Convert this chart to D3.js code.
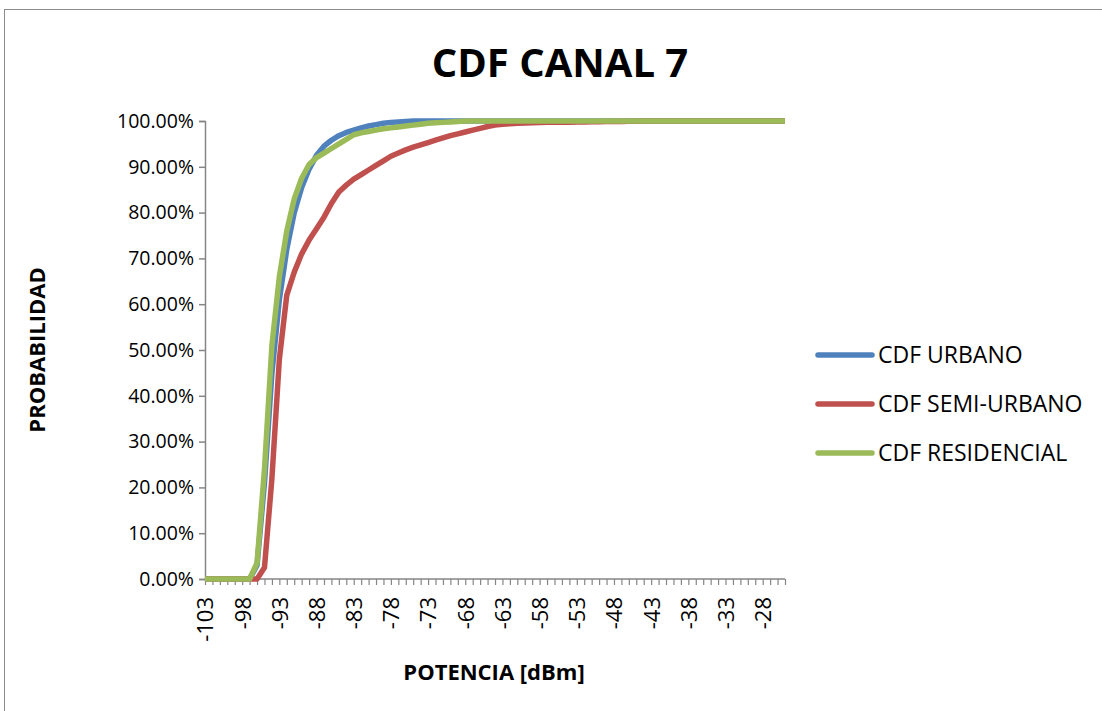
<!DOCTYPE html>
<html>
<head>
<meta charset="utf-8">
<script src="https://cdn.jsdelivr.net/npm/d3@7"></script>
<style>
  body { margin: 0; background: #fff; }
  svg { display: block; font-family: "Open Sans", sans-serif; }
</style>
</head>
<body>
<svg id="chart" width="1102" height="711"></svg>
<script>
// categories: potencia in dBm, one per point
const potencia = d3.range(-103, -24);

// CDF values in percent, one per category (-103 .. -25)
const urbano = [
  0, 0, 0, 0, 0, 0, 0,
  3, 21, 45, 61, 72, 80, 85.5, 89.5, 92.5, 94.5, 95.8, 96.8, 97.5, 98, 98.5, 98.9, 99.2, 99.5, 99.7, 99.8, 99.9,
  100, 100, 100, 100, 100, 100, 100, 100, 100, 100,
  100, 100, 100, 100, 100, 100, 100, 100, 100, 100,
  100, 100, 100, 100, 100, 100, 100, 100, 100, 100,
  100, 100, 100, 100, 100, 100, 100, 100, 100, 100,
  100, 100, 100, 100, 100, 100, 100, 100, 100, 100,
  100
];
const semiUrbano = [
  0, 0, 0, 0, 0, 0, 0, 0,
  2.5, 22, 48, 62, 67, 71, 74, 76.5, 79, 82, 84.5, 86, 87.3, 88.3, 89.3, 90.3, 91.3, 92.3, 93, 93.7,
  94.3, 94.8, 95.3, 95.8, 96.3, 96.8, 97.2, 97.6, 98, 98.4, 98.8, 99.1, 99.3, 99.4, 99.5, 99.55,
  99.6, 99.65, 99.7, 99.7, 99.75, 99.75, 99.8, 99.8, 99.85, 99.85, 99.9, 99.9, 99.9, 99.95, 99.95,
  100, 100, 100, 100, 100, 100, 100, 100, 100, 100,
  100, 100, 100, 100, 100, 100, 100, 100, 100, 100
];
const residencial = [
  0, 0, 0, 0, 0, 0, 0,
  3.5, 24, 51, 66, 76, 83, 87.5, 90.5, 92, 93, 94, 95, 96, 97, 97.4, 97.7, 98, 98.3,
  98.5, 98.7, 98.9, 99.1, 99.3, 99.5, 99.6, 99.7, 99.8, 99.9,
  100, 100, 100, 100, 100, 100, 100, 100, 100, 100,
  100, 100, 100, 100, 100, 100, 100, 100, 100, 100,
  100, 100, 100, 100, 100, 100, 100, 100, 100, 100,
  100, 100, 100, 100, 100, 100, 100, 100, 100, 100,
  100, 100, 100, 100
];

const yTicks = [0, 10, 20, 30, 40, 50, 60, 70, 80, 90, 100];

const series = [
  { name: "CDF URBANO", values: urbano, color: "#4F81BD" },
  { name: "CDF SEMI-URBANO", values: semiUrbano, color: "#C0504D" },
  { name: "CDF RESIDENCIAL", values: residencial, color: "#9BBB59" }
];

const svg = d3.select("#chart");
const font = "\"Open Sans\", sans-serif";
const axisColor = "#868686";

// outer chart frame
svg.append("rect")
  .attr("x", 4.5).attr("y", 9.5)
  .attr("width", 1200).attr("height", 800)
  .attr("fill", "none").attr("stroke", "#8c8c8c");

const x = d3.scalePoint().domain(potencia).range([205, 785]);
const y = d3.scaleLinear().domain([0, 100]).range([579, 121]);

// title
svg.append("text")
  .attr("x", 560).attr("y", 77)
  .attr("text-anchor", "middle")
  .attr("font-size", 40).attr("font-weight", "bold")
  .text("CDF CANAL 7");

// y axis
const yAxis = svg.append("g")
  .attr("transform", "translate(205,0)")
  .call(d3.axisLeft(y).tickValues(yTicks).tickSize(6).tickPadding(5)
    .tickFormat(d => d.toFixed(2) + "%"));
yAxis.select(".domain").attr("stroke", axisColor).attr("stroke-width", 1.5);
yAxis.selectAll(".tick line").attr("stroke", axisColor).attr("stroke-width", 1.5);
yAxis.selectAll(".tick text")
  .attr("font-family", font)
  .attr("font-size", 19.5).attr("fill", "#000");

// x axis
const xAxis = svg.append("g")
  .attr("transform", "translate(0,579)")
  .call(d3.axisBottom(x).tickSize(6).tickSizeOuter(0)
    .tickFormat(d => ((d + 103) % 5 === 0 ? d : "")));
xAxis.select(".domain").attr("stroke", axisColor).attr("stroke-width", 1.5)
  .attr("d", "M205,0H785");
xAxis.selectAll(".tick line").attr("stroke", axisColor).attr("stroke-width", 1.2);
xAxis.selectAll(".tick text")
  .attr("font-family", font)
  .attr("font-size", 22).attr("fill", "#000")
  .attr("text-anchor", "end")
  .attr("transform", "rotate(-90)")
  .attr("x", -18).attr("y", 0).attr("dy", "0.36em");

// axis titles
svg.append("text")
  .attr("transform", "translate(45,350) rotate(-90)")
  .attr("text-anchor", "middle")
  .attr("font-size", 22).attr("font-weight", "bold")
  .text("PROBABILIDAD");

svg.append("text")
  .attr("x", 494).attr("y", 680)
  .attr("text-anchor", "middle")
  .attr("font-size", 22).attr("font-weight", "bold")
  .text("POTENCIA [dBm]");

// lines
const line = d3.line()
  .x((d, i) => x(potencia[i]))
  .y(d => y(d));

svg.append("g").selectAll("path")
  .data(series)
  .join("path")
  .attr("d", s => line(s.values))
  .attr("fill", "none")
  .attr("stroke", s => s.color)
  .attr("stroke-width", 5.5)
  .attr("stroke-linejoin", "round");

// legend
const legend = svg.append("g").selectAll("g")
  .data(series)
  .join("g")
  .attr("transform", (s, i) => `translate(818,${355 + i * 49})`);
legend.append("line")
  .attr("x1", 0).attr("x2", 54)
  .attr("stroke", s => s.color)
  .attr("stroke-width", 5.5)
  .attr("stroke-linecap", "round");
legend.append("text")
  .attr("x", 60).attr("dy", "0.36em")
  .attr("font-size", 23)
  .text(s => s.name);
</script>
</body>
</html>
